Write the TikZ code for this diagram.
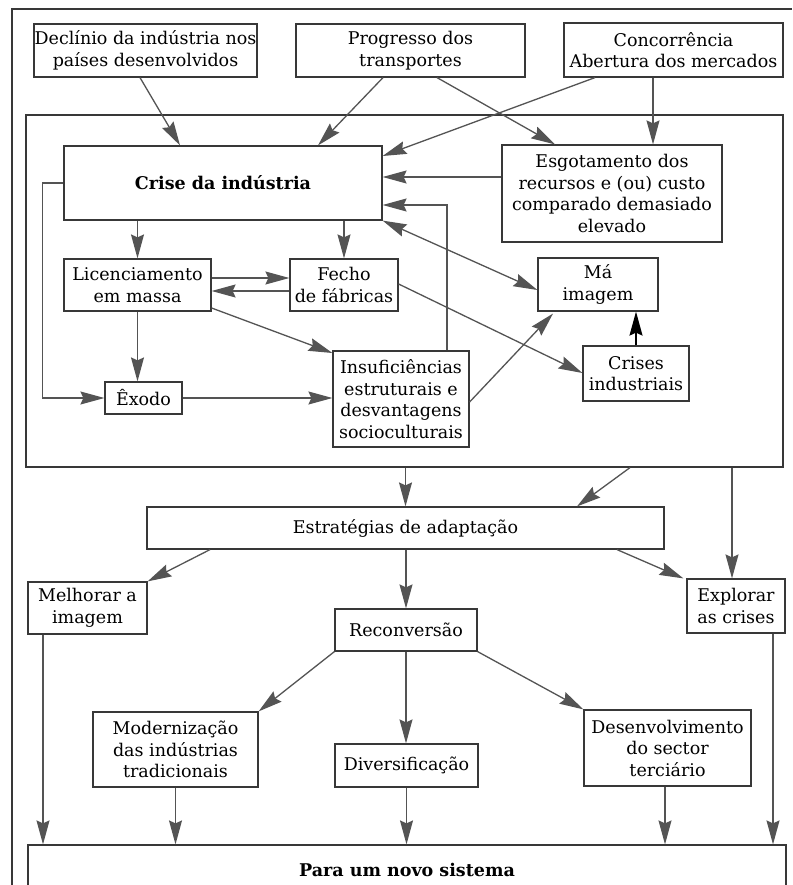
\documentclass[tikz,border=0pt]{standalone}
\usepackage{fontspec}
\setmainfont{DejaVu Serif}
\usetikzlibrary{arrows.meta,calc}
\definecolor{linegray}{gray}{0.33}
\definecolor{boxgray}{gray}{0.22}
\tikzset{
  gtip/.tip={Stealth[length=24pt,width=13pt,inset=3pt]},
  box/.style={draw=boxgray, line width=1.2pt, fill=white, align=center, inner sep=0pt,
    font=\fontsize{17.5}{21.5}\selectfont},
  boldbox/.style={box, font=\fontsize{17.5}{21.5}\selectfont\bfseries},
  framebox/.style={draw=boxgray, line width=1.2pt, inner sep=0pt},
  arr/.style={draw=linegray, line width=1.3pt, -gtip},
  darr/.style={draw=linegray, line width=1.3pt, gtip-gtip},
  blackarr/.style={draw=black, line width=1.5pt, -gtip}
}
\begin{document}
\begin{tikzpicture}[x=1pt, y=-1pt]
\useasboundingbox (0,0) rectangle (792,885);
\clip (0,0) rectangle (792,885);
\fill[white] (0,0) rectangle (792,885);
% outer frame
\draw[framebox] (12,885) -- (12,9) -- (792,9);
% inner frame
\node[framebox, minimum width=757pt, minimum height=352pt] (frame) at (404.5,291) {};
% top boxes
\node[box, minimum width=223pt, minimum height=53pt] (decl) at (145.5,50.5) {Declínio da indústria nos\\países desenvolvidos};
\node[box, minimum width=229pt, minimum height=53pt] (prog) at (410.5,50.5) {Progresso dos\\transportes};
\node[box, minimum width=219pt, minimum height=54pt] (conc) at (673.5,50) {Concorrência\\Abertura dos mercados};
% inner boxes
\node[boldbox, minimum width=318pt, minimum height=74pt] (crise) at (223,183) {Crise da indústria};
\node[box, minimum width=220pt, minimum height=97pt] (esg) at (612,193.5) {Esgotamento dos\\recursos e (ou) custo\\comparado demasiado\\elevado};
\node[box, minimum width=147pt, minimum height=52pt] (lic) at (137.5,285) {Licenciamento\\em massa};
\node[box, minimum width=108pt, minimum height=52pt] (fecho) at (344,285) {Fecho\\de fábricas};
\node[box, minimum width=77pt, minimum height=32pt] (exodo) at (143.5,398) {Êxodo};
\node[box, minimum width=136pt, minimum height=96pt] (insuf) at (401,399) {Insuficiências\\estruturais e\\desvantagens\\socioculturais};
\node[box, minimum width=120pt, minimum height=53pt] (ma) at (598,284.5) {Má\\imagem};
\node[box, minimum width=106pt, minimum height=55pt] (crises) at (636,373.5) {Crises\\industriais};
% lower boxes
\node[box, minimum width=517pt, minimum height=42pt] (estr) at (405.5,528) {Estratégias de adaptação};
\node[box, minimum width=119pt, minimum height=52pt] (melh) at (87.5,608) {Melhorar a\\imagem};
\node[box, minimum width=142pt, minimum height=42pt] (recon) at (406,630) {Reconversão};
\node[box, minimum width=98pt, minimum height=54pt] (expl) at (736,606) {Explorar\\as crises};
\node[box, minimum width=165pt, minimum height=75pt] (mod) at (175.5,749.5) {Modernização\\das indústrias\\tradicionais};
\node[box, minimum width=143pt, minimum height=43pt] (div) at (406.5,765.5) {Diversificação};
\node[box, minimum width=167pt, minimum height=76pt] (desen) at (667.5,748) {Desenvolvimento\\do sector\\terciário};
\node[boldbox, minimum width=758pt, minimum height=50pt] (para) at (407,870) {Para um novo sistema};
% connectors, top
\draw[arr] ($(decl.south)+(-5.5,0)$) -- ($(crise.north)+(-43,0)$);
\draw[arr] ($(prog.south)+(-27.5,0)$) -- ($(crise.north)+(95,0)$);
\draw[arr] ($(prog.south)+(26.5,0)$) -- ($(esg.north)+(-57,0)$);
\draw[arr] ($(conc.south)+(-78.5,0)$) -- ($(crise.east)+(0,-27)$);
\draw[arr] ($(conc.south)+(-20.5,0)$) -- ($(esg.north -| conc.south)+(-20.5,0)$);
\draw[arr] ($(esg.west)+(0,-16.5)$) -- ($(esg.west -| crise.east)+(0,-16.5)$);
\draw[arr] ($(insuf.north)+(46,0)$) |- ($(crise.east)+(0,22)$);
\draw[darr] (crise.south east) -- ($(ma.west)+(0,5.5)$);
\draw[arr] (lic.north |- crise.south) -- (lic.north);
\draw[arr] (fecho.north |- crise.south) -- (fecho.north);
\draw[arr] (crise.west) -- ++(-21,0) |- (exodo.west);
\draw[arr] ($(lic.east)+(0,-7)$) -- ($(lic.east -| fecho.west)+(0,-7)$);
\draw[arr] ($(fecho.west)+(0,6)$) -- ($(fecho.west -| lic.east)+(0,6)$);
\draw[arr] (lic.south) -- (lic.south |- exodo.north);
\draw[arr] ($(lic.east)+(0,23)$) -- ($(insuf.west)+(0,-46)$);
\draw[arr] (exodo.east) -- (exodo.east -| insuf.west);
\draw[arr] ($(insuf.east)+(0,3)$) -- ($(ma.south)+(-45,2)$);
\draw[arr] ($(fecho.east)+(0,-1)$) -- ($(crises.west)+(0,-0.5)$);
\draw[blackarr] (crises.north) -- (crises.north |- ma.south);
% connectors, bottom
\draw[arr] (estr.north |- frame.south) -- (estr.north);
\draw[arr] ($(frame.south)+(225.5,0)$) -- ($(estr.north)+(171.5,0)$);
\draw[arr] ($(expl.north |- frame.south)+(-4,0)$) -- ($(expl.north)+(-4,0)$);
\draw[arr] ($(estr.south)+(-195.5,0)$) -- (melh.north east);
\draw[arr] (recon.north |- estr.south) -- (recon.north);
\draw[arr] ($(estr.south)+(211.5,0)$) -- ($(expl.north west)+(-3,0)$);
\draw[arr] (recon.south west) -- (mod.north east);
\draw[arr] (recon.south) -- (recon.south |- div.north);
\draw[arr] (recon.south east) -- (desen.north west);
\draw[arr] ($(melh.south)+(-44.5,0)$) -- ($(melh.south |- para.north)+(-44.5,0)$);
\draw[arr] (mod.south) -- (mod.south |- para.north);
\draw[arr] (div.south) -- (div.south |- para.north);
\draw[arr] ($(desen.south)+(-2.5,0)$) -- ($(desen.south |- para.north)+(-2.5,0)$);
\draw[arr] ($(expl.south)+(37,0)$) -- ($(expl.south |- para.north)+(37,0)$);
\end{tikzpicture}
\end{document}
